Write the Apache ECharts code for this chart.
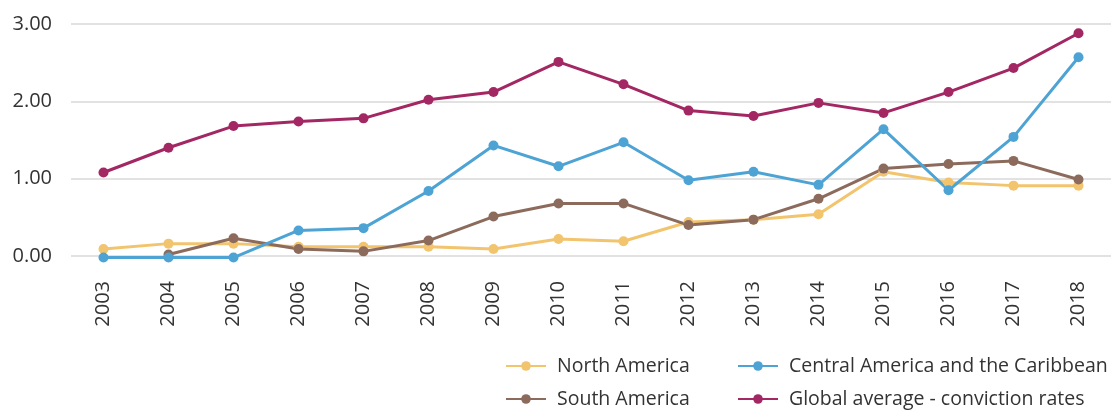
<!DOCTYPE html>
<html>
<head>
<meta charset="utf-8">
<script src="https://cdn.jsdelivr.net/npm/echarts@6/dist/echarts.min.js"></script>
<style>
  html, body { margin: 0; padding: 0; background: #fff; }
  #chart { width: 1111px; height: 410px; }
</style>
</head>
<body>
<div id="chart"></div>
<script>
const years = ['2003', '2004', '2005', '2006', '2007', '2008', '2009', '2010',
  '2011', '2012', '2013', '2014', '2015', '2016', '2017', '2018']

const northAmerica = [0.09, 0.16, 0.16, 0.12, 0.12, 0.12, 0.09, 0.22, 0.19, 0.44, 0.47, 0.54, 1.09, 0.95, 0.91, 0.91]
const centralAmerica = [-0.02, -0.02, -0.02, 0.33, 0.36, 0.84, 1.43, 1.16, 1.47, 0.98, 1.09, 0.92, 1.64, 0.85, 1.54, 2.57]
const southAmerica = [null, 0.02, 0.23, 0.09, 0.06, 0.20, 0.51, 0.68, 0.68, 0.40, 0.47, 0.74, 1.13, 1.19, 1.23, 0.99]
const globalAverage = [1.08, 1.40, 1.68, 1.74, 1.78, 2.02, 2.12, 2.51, 2.22, 1.88, 1.81, 1.98, 1.85, 2.12, 2.43, 2.88]

const names = ['North America', 'Central America and the Caribbean', 'South America', 'Global average - conviction rates']
const colors = ['#F2C46D', '#4DA3D4', '#8C6B5D', '#A32763']
const values = [northAmerica, centralAmerica, southAmerica, globalAverage]

const fontFamily = '"Open Sans", "Noto Sans", sans-serif'

const makeSeries = (i) => {
  return {
    name: names[i],
    type: 'line',
    data: values[i],
    color: colors[i],
    symbol: 'circle',
    symbolSize: 10,
    clip: false,
    lineStyle: { width: 3 },
    emphasis: { disabled: true }
  }
}

// one legend per item so the two columns line up like the original
const makeLegend = (i, left, top) => {
  return {
    left: left,
    top: top,
    data: [names[i]],
    itemWidth: 40,
    itemHeight: 12,
    selectedMode: false,
    textStyle: { fontSize: 19.5, color: '#333', fontFamily: fontFamily, padding: [0, 0, 0, 6] }
  }
}

const chart = echarts.init(document.getElementById('chart'))
chart.setOption({
  animation: false,
  grid: {
    left: 71,
    right: 0,
    top: 24,
    bottom: 154
  },
  legend: [
    makeLegend(0, 500, 351),
    makeLegend(1, 732, 351),
    makeLegend(2, 500, 384),
    makeLegend(3, 732, 384)
  ],
  xAxis: {
    type: 'category',
    data: years,
    boundaryGap: true,
    axisLine: { show: false },
    axisTick: { show: false },
    axisLabel: {
      rotate: 90,
      margin: 25,
      fontSize: 20,
      color: '#333',
      fontFamily: fontFamily
    }
  },
  yAxis: {
    type: 'value',
    min: 0,
    max: 3,
    interval: 1,
    axisLine: { show: false },
    axisTick: { show: false },
    splitLine: { lineStyle: { color: '#d9d9d9', width: 1.5 } },
    axisLabel: {
      margin: 19,
      fontSize: 20,
      color: '#333',
      fontFamily: fontFamily,
      formatter: (v) => v.toFixed(2)
    }
  },
  series: [makeSeries(0), makeSeries(2), makeSeries(1), makeSeries(3)]
})
</script>
</body>
</html>
